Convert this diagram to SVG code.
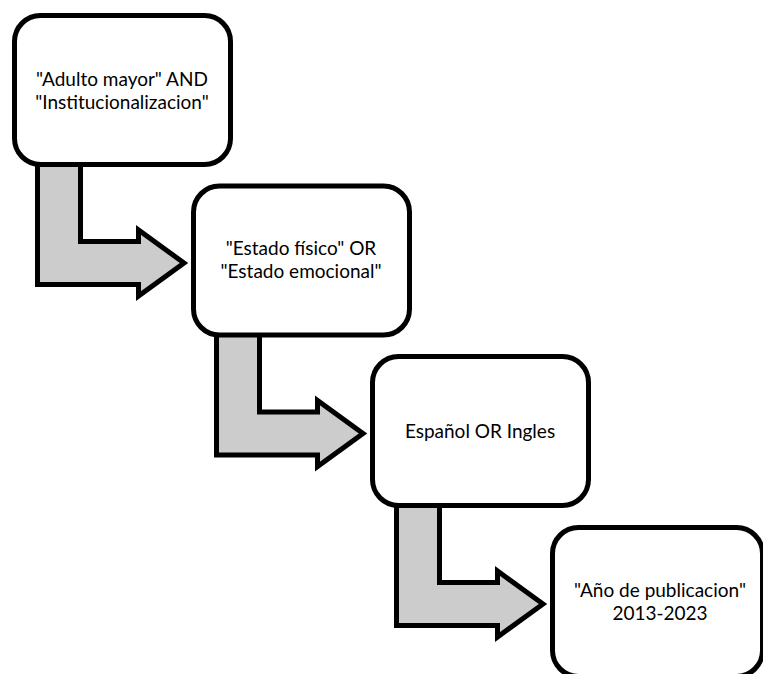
<svg xmlns="http://www.w3.org/2000/svg" xmlns:xlink="http://www.w3.org/1999/xlink" width="763" height="674" viewBox="0 0 763 674">
  <style>
    .box { fill: #ffffff; stroke: #000000; stroke-width: 5; }
    .arrow { fill: #cccccc; stroke: #000000; stroke-width: 5; stroke-linejoin: miter; }
    .label { font-family: Lato, "Open Sans", "Liberation Sans", sans-serif; font-size: 19px; fill: #000000; text-anchor: middle; }
  </style>
  <defs>
    <path id="bentArrow" class="arrow" d="M 25.5 150 L 68.5 150 L 68.5 228.5 L 126.5 228.5 L 126.5 217 L 172 250 L 126.5 283 L 126.5 271.5 L 25.5 271.5 Z"/>
  </defs>
  <rect x="0" y="0" width="763" height="674" fill="#ffffff"/>
  <g id="connectors">
    <use xlink:href="#bentArrow" href="#bentArrow" transform="translate(12,13)"/>
    <use xlink:href="#bentArrow" href="#bentArrow" transform="translate(191,183.5)"/>
    <use xlink:href="#bentArrow" href="#bentArrow" transform="translate(371,354)"/>
  </g>
  <g id="node1">
    <rect class="box" x="14.5" y="15.5" width="216" height="149" rx="26" ry="26"/>
    <text class="label" x="122" y="86"><tspan x="122" y="86">"Adulto mayor" AND</tspan><tspan x="122" y="109">"Institucionalizacion"</tspan></text>
  </g>
  <g id="node2">
    <rect class="box" x="193.5" y="186" width="216" height="149" rx="26" ry="26"/>
    <text class="label" x="301" y="255"><tspan x="301" y="255">"Estado físico" OR</tspan><tspan x="301" y="278">"Estado emocional"</tspan></text>
  </g>
  <g id="node3">
    <rect class="box" x="372.5" y="356.5" width="216" height="149" rx="26" ry="26"/>
    <text class="label" x="480" y="438">Español OR Ingles</text>
  </g>
  <g id="node4">
    <rect class="box" x="552.5" y="527.5" width="210" height="149" rx="26" ry="26"/>
    <text class="label" x="660" y="597"><tspan x="660" y="597">"Año de publicacion"</tspan><tspan x="660" y="620">2013-2023</tspan></text>
  </g>
</svg>
